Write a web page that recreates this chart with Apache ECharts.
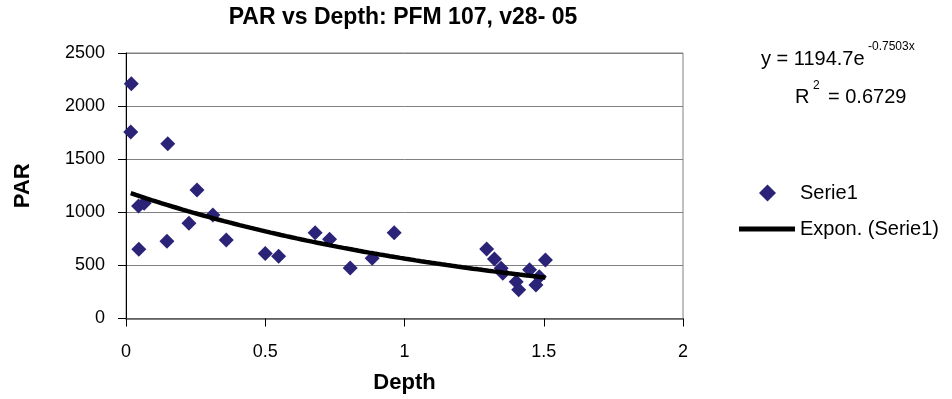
<!DOCTYPE html>
<html>
<head>
<meta charset="utf-8">
<script src="https://cdn.jsdelivr.net/npm/echarts@6/dist/echarts.min.js"></script>
<style>
  html, body { margin: 0; padding: 0; background: #fff; }
  #chart { width: 952px; height: 399px; }
</style>
</head>
<body>
<div id="chart"></div>
<script>
// Measured PAR readings against depth (PFM 107, v28-05)
const depth = [0.019, 0.017, 0.150, 0.255, 0.045, 0.065, 0.046, 0.147, 0.226, 0.312,
               0.360, 0.500, 0.548, 0.679, 0.731, 0.805, 0.884, 0.963,
               1.295, 1.323, 1.347, 1.353, 1.401, 1.410, 1.449, 1.472, 1.484, 1.506];
const par   = [2210, 1757, 1646, 1209, 1060, 1085, 653, 728, 898, 975,
               738, 611, 587, 807, 747, 476, 568, 807,
               655, 560, 474, 426, 347, 270, 458, 316, 394, 550];

// Exponential trendline coefficients (y = a * e^(b x)) and fit quality
const trendA = 1194.7;
const trendB = -0.7503;
const rSquared = 0.6729;

// Axis settings
const xTicks = { min: 0, max: 2, interval: 0.5 };
const yTicks = { min: 0, max: 2500, interval: 500 };

const FONT = '"Liberation Sans", Arial, Helvetica, sans-serif';
const MARKER = '#2A2378';

const points = depth.map((d, i) => [d, par[i]]);

// Trendline sampled across the span of the measured depths
const xLo = Math.min(...depth), xHi = Math.max(...depth);
const trend = [];
const steps = 80;
for (let i = 0; i <= steps; i++) {
  const x = xLo + (xHi - xLo) * i / steps;
  trend.push([x, trendA * Math.exp(trendB * x)]);
}

const chart = echarts.init(document.getElementById('chart'), null, { renderer: 'canvas' });

chart.setOption({
  animation: false,
  backgroundColor: '#ffffff',
  textStyle: { fontFamily: FONT, color: '#000' },
  grid: {
    left: 126, top: 53, width: 557, height: 265.5,
    show: true, borderColor: '#808080', borderWidth: 1, backgroundColor: 'transparent'
  },
  xAxis: {
    type: 'value',
    min: xTicks.min, max: xTicks.max, interval: xTicks.interval,
    name: 'Depth', nameLocation: 'middle', nameGap: 53,
    nameTextStyle: { fontFamily: FONT, fontSize: 22, fontWeight: 'bold', color: '#000' },
    axisLine: { show: true, onZero: false, lineStyle: { color: '#555', width: 1.5 } },
    axisTick: { show: true, inside: false, length: 8, lineStyle: { color: '#000' } },
    axisLabel: { margin: 25, fontFamily: FONT, fontSize: 18, color: '#000',
                 formatter: v => String(v) },
    splitLine: { show: false }
  },
  yAxis: {
    type: 'value',
    min: yTicks.min, max: yTicks.max, interval: yTicks.interval,
    name: 'PAR', nameLocation: 'middle', nameGap: 92, nameRotate: 90,
    nameTextStyle: { fontFamily: FONT, fontSize: 22, fontWeight: 'bold', color: '#000' },
    axisLine: { show: true, onZero: false, lineStyle: { color: '#000', width: 1 } },
    axisTick: { show: true, inside: false, length: 8, lineStyle: { color: '#000' } },
    axisLabel: { margin: 21, fontFamily: FONT, fontSize: 18, color: '#000',
                 formatter: v => String(v) },
    splitLine: { show: true, lineStyle: { color: '#808080', width: 1 } }
  },
  legend: [
    {
      data: [{ name: 'Serie1', icon: 'diamond' }],
      left: 759, top: 183, padding: 0, orient: 'vertical',
      itemWidth: 17, itemHeight: 17, selectedMode: false,
      textStyle: { fontFamily: FONT, fontSize: 20, color: '#000', padding: [0, 0, 0, 19] }
    },
    {
      data: [{ name: 'Expon. (Serie1)', icon: 'rect' }],
      left: 739, top: 219, padding: 0, orient: 'vertical',
      itemWidth: 56, itemHeight: 5, selectedMode: false,
      textStyle: { fontFamily: FONT, fontSize: 20, color: '#000' }
    }
  ],
  graphic: [
    {
      type: 'text', x: 403, y: 18, z: 10,
      style: {
        text: 'PAR vs Depth: PFM 107, v28- 05', fill: '#000',
        font: 'bold 23px ' + FONT, textAlign: 'center', textVerticalAlign: 'middle'
      }
    },
    {
      type: 'text', x: 761, y: 59, z: 10,
      style: { text: 'y = ' + trendA + 'e', fill: '#000', font: '20px ' + FONT,
               textAlign: 'left', textVerticalAlign: 'middle' }
    },
    {
      type: 'text', x: 868, y: 47, z: 10,
      style: { text: trendB + 'x', fill: '#000', font: '12px ' + FONT,
               textAlign: 'left', textVerticalAlign: 'middle' }
    },
    {
      type: 'text', x: 795, y: 97, z: 10,
      style: { text: 'R', fill: '#000', font: '20px ' + FONT,
               textAlign: 'left', textVerticalAlign: 'middle' }
    },
    {
      type: 'text', x: 813, y: 86, z: 10,
      style: { text: '2', fill: '#000', font: '12px ' + FONT,
               textAlign: 'left', textVerticalAlign: 'middle' }
    },
    {
      type: 'text', x: 828, y: 97, z: 10,
      style: { text: '= ' + rSquared, fill: '#000', font: '20px ' + FONT,
               textAlign: 'left', textVerticalAlign: 'middle' }
    }
  ],
  series: [
    {
      name: 'Serie1',
      type: 'scatter',
      data: points,
      symbol: 'diamond',
      symbolSize: 15,
      itemStyle: { color: MARKER, opacity: 1 },
      z: 2
    },
    {
      name: 'Expon. (Serie1)',
      type: 'line',
      data: trend,
      showSymbol: false,
      symbol: 'none',
      smooth: false,
      color: '#000',
      lineStyle: { color: '#000', width: 4.5 },
      itemStyle: { color: '#000' },
      z: 3
    }
  ]
});
</script>
</body>
</html>
